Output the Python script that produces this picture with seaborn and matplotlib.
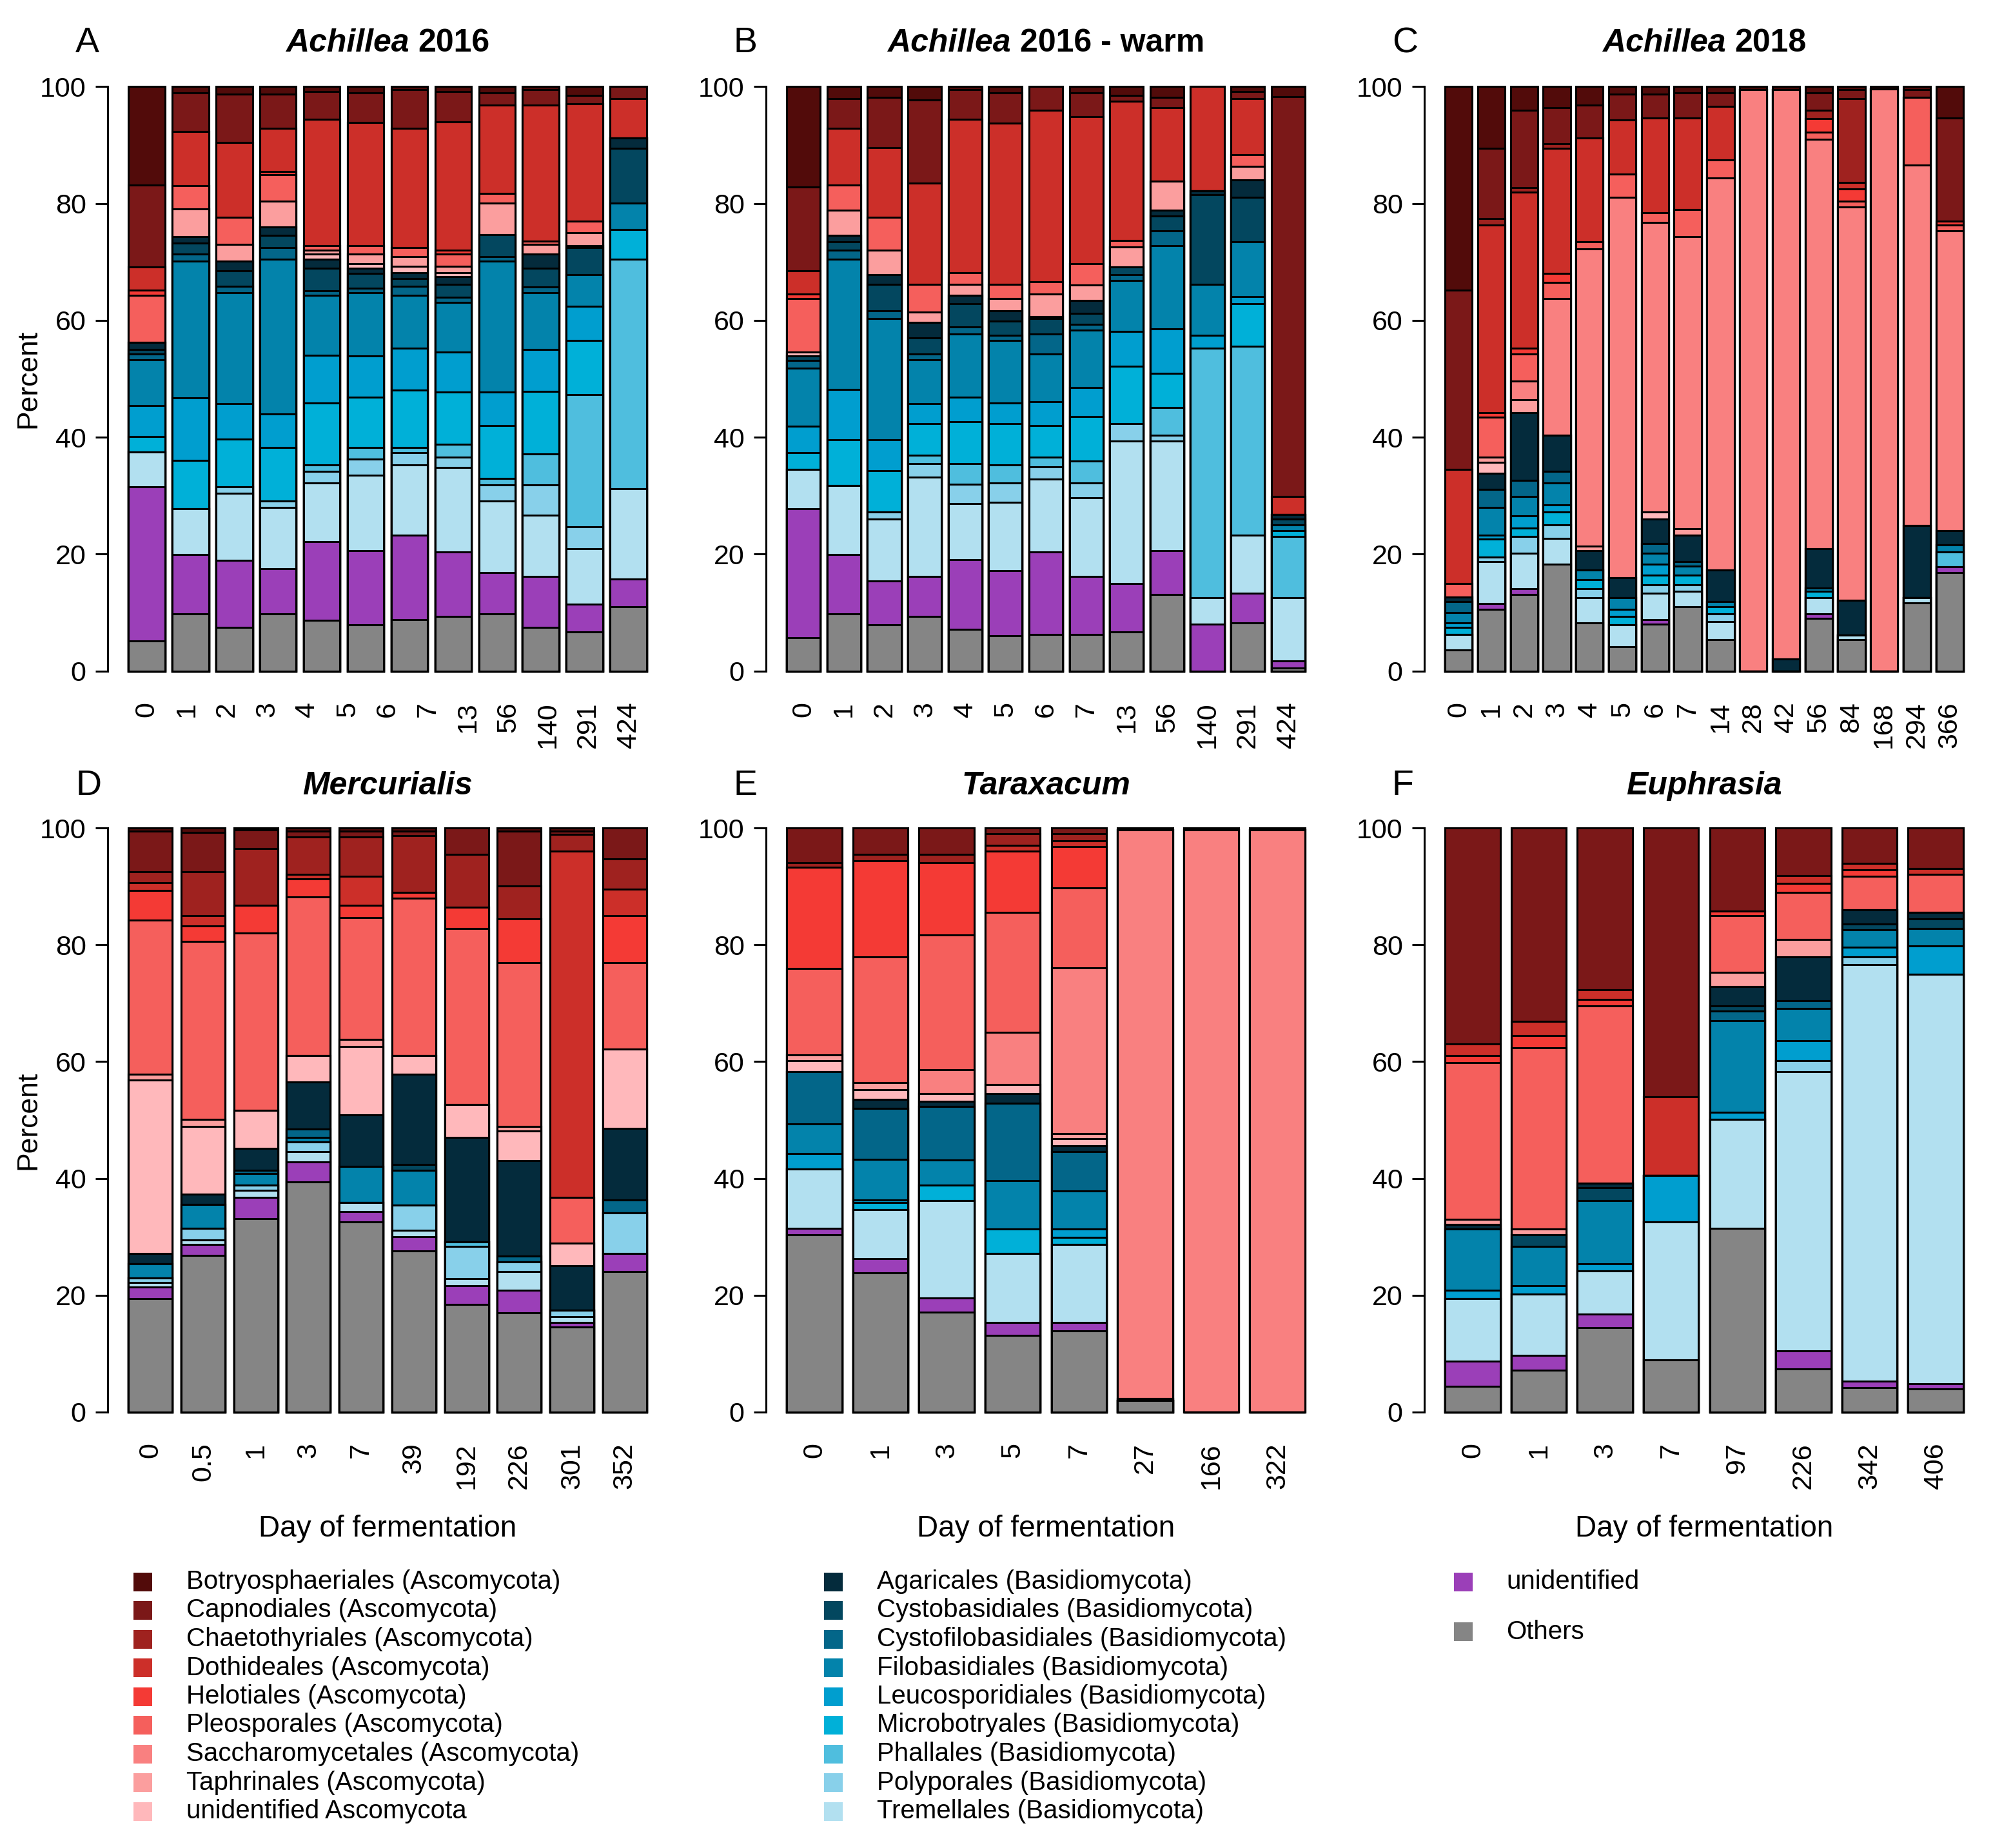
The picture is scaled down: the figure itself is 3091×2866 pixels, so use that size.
import numpy as np
import matplotlib
matplotlib.use("Agg")
import matplotlib.pyplot as plt
from matplotlib.patches import Rectangle
import seaborn as sns

sns.set_style("ticks")
plt.rcParams['font.family'] = ['Liberation Sans', 'DejaVu Sans']
for key in ["text.color", "axes.labelcolor", "xtick.color", "ytick.color", "axes.edgecolor"]:
    plt.rcParams[key] = "black"

# fungal orders, in stacking order (bottom -> top)
orders = ["Others", "unidentified",
          "Tremellales (Basidiomycota)", "Polyporales (Basidiomycota)",
          "Phallales (Basidiomycota)", "Microbotryales (Basidiomycota)",
          "Leucosporidiales (Basidiomycota)", "Filobasidiales (Basidiomycota)",
          "Cystofilobasidiales (Basidiomycota)", "Cystobasidiales (Basidiomycota)",
          "Agaricales (Basidiomycota)",
          "unidentified Ascomycota", "Taphrinales (Ascomycota)",
          "Saccharomycetales (Ascomycota)", "Pleosporales (Ascomycota)",
          "Helotiales (Ascomycota)", "Dothideales (Ascomycota)",
          "Chaetothyriales (Ascomycota)", "Capnodiales (Ascomycota)",
          "Botryosphaeriales (Ascomycota)"]
colors = ["#858585", "#9B3FB8",
          "#B2E0F0", "#88D0EA", "#4FBEDE", "#00B0D8", "#009ECF",
          "#0383AB", "#036689", "#03475F", "#042B3C",
          "#FFB8BB", "#FB9E9E", "#F98080", "#F55F5C", "#F43A35",
          "#CC2F29", "#9F221F", "#7B1818", "#520B0A"]

# percent per order, columns follow `orders`
#   O     U    Tre   Pol   Pha   Mic   Leu   Fil   Cfi   Cba   Aga   uA    Tap   Sac   Ple   Hel   Dot   Cha   Cap   Bot
achillea16 = [
    [5.2, 26.3, 6.0, 0, 0, 2.6, 5.3, 7.9, 0.9, 0.8, 1.2, 0, 0, 0, 8.1, 0.9, 3.9, 0, 14.1, 16.8],
    [9.8, 10.1, 7.9, 0, 0, 8.3, 10.6, 23.4, 1.2, 1.9, 1.1, 0, 4.8, 0, 3.9, 0, 9.3, 0, 6.6, 1.1],
    [7.5, 11.4, 11.5, 1.1, 0, 8.2, 6.0, 19.0, 1.1, 2.7, 1.6, 0, 2.9, 0, 4.6, 0, 12.8, 0, 8.3, 1.3],
    [9.8, 7.7, 10.5, 1.1, 0, 9.1, 5.8, 26.5, 1.9, 2.1, 1.5, 0, 4.4, 0, 4.5, 0.6, 7.4, 0, 5.8, 1.3],
    [8.7, 13.5, 10.0, 2.0, 1.1, 10.6, 8.1, 10.3, 0.8, 3.8, 1.6, 0.8, 0.7, 0, 0.8, 0, 21.6, 0, 4.8, 0.8],
    [7.9, 12.7, 12.9, 2.8, 1.9, 8.7, 7.0, 10.8, 0.8, 2.5, 0.9, 0.8, 1.6, 0, 1.5, 0, 21.0, 0, 5.1, 1.1],
    [8.8, 14.4, 12.1, 2.1, 0.8, 9.9, 7.1, 9.1, 1.5, 1.4, 1.0, 1.1, 1.6, 0, 1.5, 0, 20.5, 0, 6.6, 0.5],
    [9.4, 11.0, 14.4, 1.8, 2.2, 8.9, 6.9, 8.5, 0.8, 2.3, 1.3, 0.7, 1.1, 0, 2.0, 0.7, 22.0, 0, 5.2, 0.8],
    [9.8, 7.0, 12.3, 2.7, 1.2, 9.0, 5.7, 22.4, 0.8, 3.8, 0, 0, 5.4, 0, 1.6, 0, 15.1, 0, 2.1, 1.1],
    [7.5, 8.7, 10.5, 5.1, 5.4, 10.7, 7.1, 9.7, 1.0, 3.2, 2.5, 0, 1.6, 0, 0.6, 0, 23.2, 0, 2.7, 0.5],
    [6.7, 4.7, 9.5, 3.8, 22.6, 9.3, 5.8, 5.4, 0, 4.6, 0.4, 0, 2.2, 0, 2.0, 0, 20.1, 0, 1.4, 1.5],
    [11.0, 4.8, 15.4, 0, 39.3, 5.0, 0, 4.6, 0, 9.3, 1.8, 0, 0, 0, 0, 0, 6.7, 0, 2.1, 0],
]
achillea16_warm = [
    [5.7, 22.1, 6.7, 0, 0, 2.9, 4.5, 9.9, 1.3, 0.8, 0, 0.7, 0, 0, 9.1, 0.8, 4.0, 0, 14.3, 17.2],
    [9.8, 10.1, 11.8, 0, 0, 7.9, 8.6, 22.3, 1.5, 1.4, 1.1, 0, 4.3, 0, 4.4, 0, 9.7, 0, 5.0, 2.1],
    [7.9, 7.5, 10.6, 1.2, 0, 7.1, 5.3, 20.7, 1.3, 4.6, 1.6, 0, 4.2, 0, 5.6, 0, 12.0, 0, 8.5, 1.9],
    [9.4, 6.8, 17.0, 2.3, 1.4, 5.4, 3.4, 7.6, 1.0, 2.7, 2.7, 0, 1.7, 0, 4.8, 0, 17.3, 0, 14.2, 2.3],
    [7.1, 12.0, 9.5, 3.4, 3.5, 7.2, 4.2, 10.8, 1.2, 3.9, 1.5, 0, 1.9, 0, 2.0, 0, 26.2, 0, 5.1, 0.5],
    [6.0, 11.2, 11.7, 3.3, 3.1, 7.0, 3.6, 10.7, 0.9, 2.4, 1.7, 0, 2.1, 0, 2.5, 0, 27.5, 0, 5.2, 1.1],
    [6.3, 14.1, 12.4, 2.1, 1.7, 5.4, 4.1, 8.2, 3.4, 2.6, 0.3, 0, 3.9, 0, 2.1, 0, 29.4, 0, 4.0, 0],
    [6.3, 9.9, 13.5, 2.5, 3.7, 7.7, 4.9, 9.8, 1.0, 1.9, 2.2, 0, 2.7, 0, 3.6, 0, 25.1, 0, 4.1, 1.1],
    [6.7, 8.3, 24.4, 2.9, 0, 9.8, 6.0, 8.7, 1.0, 1.3, 0, 0, 3.5, 0, 1.1, 0, 23.8, 0, 1.0, 1.5],
    [13.1, 7.5, 18.8, 0.9, 4.8, 5.8, 7.6, 14.3, 2.5, 2.5, 1.0, 0, 5.0, 0, 0, 0, 12.6, 0, 1.7, 1.9],
    [0, 8.0, 4.5, 0, 42.7, 0, 2.3, 8.7, 0, 15.3, 0.7, 0, 0, 0, 0, 0, 17.8, 0, 0, 0],
    [8.3, 5.0, 10.0, 0, 32.3, 7.2, 1.3, 9.3, 0, 7.7, 2.9, 0, 2.3, 0, 2.0, 0, 9.6, 0, 1.2, 0.9],
    [0.5, 1.2, 10.8, 0, 10.5, 1.0, 0, 1.0, 0, 1.0, 0.8, 0, 0, 0, 0, 0, 3.1, 0, 68.4, 1.7],
]
achillea18 = [
    [3.6, 0, 2.7, 0, 0, 1.2, 0.8, 1.7, 1.9, 0, 0.8, 0, 0, 0, 2.3, 0, 19.5, 0, 30.7, 34.8],
    [10.6, 1.0, 7.1, 0.8, 0, 3.1, 0.7, 4.7, 3.1, 0, 2.7, 1.9, 0.9, 0, 6.8, 0.8, 32.1, 1.1, 12.0, 10.6],
    [13.1, 1.0, 6.1, 2.8, 0, 1.5, 2.1, 3.3, 2.7, 0, 11.6, 0, 2.2, 3.2, 4.7, 0.9, 26.7, 0.8, 13.3, 4.0],
    [18.3, 0, 4.4, 2.3, 0, 2.2, 1.2, 3.8, 2.0, 0, 6.1, 0, 0, 23.4, 2.8, 1.5, 21.4, 0.8, 6.2, 3.6],
    [8.3, 0, 4.2, 1.6, 0, 1.5, 0, 1.7, 0, 0, 3.3, 0, 0.8, 50.8, 1.2, 0, 17.8, 0, 5.6, 3.2],
    [4.2, 0, 3.7, 0, 0, 1.4, 1.3, 1.9, 0, 0, 3.5, 0, 0, 65.1, 3.9, 0, 9.3, 0, 4.4, 1.3],
    [8.0, 0.8, 4.5, 1.5, 0, 1.6, 1.9, 1.9, 1.6, 0, 4.2, 1.2, 0, 49.6, 1.6, 0, 16.2, 0, 4.1, 1.3],
    [11.0, 0, 2.7, 1.1, 0, 1.6, 0, 1.5, 0.8, 0, 4.6, 0, 1.0, 50.0, 4.7, 0, 15.6, 0, 4.3, 1.1],
    [5.4, 0, 3.1, 1.3, 0, 1.2, 0, 0.9, 0, 0, 5.4, 0, 0, 67.1, 3.1, 0, 9.1, 0, 2.3, 1.1],
    [0, 0, 0, 0, 0, 0, 0, 0, 0, 0, 0, 0, 0, 99.5, 0, 0, 0, 0, 0, 0.5],
    [0, 0, 0, 0, 0, 0, 0, 0, 0, 0, 2.1, 0, 0, 97.4, 0, 0, 0, 0, 0, 0.5],
    [9.0, 0.8, 2.7, 0, 0, 1.2, 0, 0.5, 0, 0, 6.7, 0, 0, 70.1, 1.2, 2.3, 0, 1.5, 2.9, 1.1],
    [5.4, 0, 0.8, 0, 0, 0, 0, 0, 0, 0, 5.9, 0, 0, 67.3, 1.0, 2.1, 1.1, 14.3, 1.6, 0.5],
    [0, 0, 0, 0, 0, 0, 0, 0, 0, 0, 0, 0, 0, 99.6, 0, 0, 0, 0, 0, 0.4],
    [11.7, 0, 0.8, 0, 0, 0, 0, 0, 0, 0, 12.4, 0, 0, 61.7, 11.5, 0, 0, 0, 1.4, 0.5],
    [16.8, 1.0, 0, 0, 2.6, 0, 0, 1.2, 0, 0, 2.4, 0, 0, 51.3, 1.0, 0.7, 0, 0, 17.6, 5.4],
]
mercurialis = [
    [19.4, 2.0, 0.8, 0.8, 0, 0, 0, 2.4, 0, 0, 1.7, 29.8, 0.9, 0, 26.4, 5.1, 1.3, 1.9, 7.0, 0.5],
    [26.8, 1.9, 0.8, 2.0, 0, 0, 0, 4.0, 0, 0, 1.8, 11.6, 1.2, 0, 30.5, 2.6, 1.8, 7.5, 6.7, 0.8],
    [33.1, 3.7, 1.2, 0.8, 0, 0, 0, 2.0, 0.6, 0, 3.7, 6.6, 0, 0, 30.3, 4.8, 0, 9.7, 3.2, 0.3],
    [39.4, 3.4, 1.8, 1.6, 0, 0, 0, 0.8, 1.5, 0, 8.0, 4.5, 0, 0, 27.2, 3.1, 0.8, 6.4, 1.0, 0.5],
    [32.5, 1.8, 1.6, 0, 0, 0, 0, 6.1, 0, 0, 8.9, 11.7, 1.2, 0, 20.9, 2.1, 4.9, 6.8, 1.0, 0.5],
    [27.6, 2.4, 1.1, 4.3, 0, 0, 0, 6.0, 0, 1.0, 15.4, 3.2, 0, 0, 27.0, 1.0, 0, 9.7, 0.8, 0.5],
    [18.4, 3.2, 1.2, 5.6, 0.7, 0, 0, 0, 0, 0, 17.9, 5.7, 0, 0, 30.1, 3.6, 0, 9.1, 4.5, 0],
    [17.0, 3.8, 3.3, 1.6, 0, 0, 0, 0, 1.0, 0, 16.3, 5.1, 0.8, 0, 28.0, 7.5, 0, 5.7, 9.4, 0.5],
    [14.5, 0.8, 1.0, 1.1, 0, 0, 0, 0, 0, 0, 7.6, 3.9, 0, 0, 7.9, 0, 59.3, 2.8, 0.6, 0.5],
    [24.1, 3.0, 0, 7.0, 0, 0, 0, 0, 2.2, 0, 12.3, 13.6, 0, 0, 14.7, 8.1, 4.5, 5.2, 5.3, 0],
]
taraxacum = [
    [30.3, 1.2, 10.1, 0, 0, 0, 2.7, 5.0, 9.0, 0, 0, 1.9, 1.0, 0, 14.7, 17.4, 0, 0.8, 5.9, 0],
    [23.8, 2.5, 8.4, 0, 0, 1.2, 0.4, 7.0, 8.7, 0, 1.5, 1.7, 1.2, 0, 21.5, 16.5, 0, 1.1, 4.5, 0],
    [17.1, 2.4, 16.7, 0, 0, 2.6, 0, 4.4, 9.1, 0, 0.9, 1.3, 0, 4.1, 23.1, 12.4, 0, 1.4, 4.5, 0],
    [13.1, 2.2, 11.8, 0, 0, 4.2, 0, 8.3, 13.3, 0, 1.6, 1.6, 0, 8.9, 20.6, 10.4, 1.0, 2.0, 1.0, 0],
    [13.9, 1.4, 13.4, 0, 0, 1.2, 1.4, 6.5, 6.8, 0, 1.0, 1.2, 0.9, 28.4, 13.7, 7.0, 1.0, 1.2, 1.0, 0],
    [2.0, 0, 0, 0, 0, 0, 0, 0, 0, 0, 0.3, 0, 0, 97.4, 0, 0, 0, 0, 0, 0.3],
    [0, 0, 0, 0, 0, 0, 0, 0, 0, 0, 0, 0, 0, 99.7, 0, 0, 0, 0, 0, 0.3],
    [0, 0, 0, 0, 0, 0, 0, 0, 0, 0, 0, 0, 0, 99.7, 0, 0, 0, 0, 0, 0.3],
]
euphrasia = [
    [4.4, 4.3, 10.7, 0, 0, 0, 1.4, 10.5, 0, 0, 0.8, 0, 0.9, 0, 26.8, 1.2, 2.0, 0, 37.0, 0],
    [7.1, 2.6, 10.5, 0, 0, 0, 1.4, 6.8, 0, 1.9, 0, 0, 1.0, 0, 31.1, 2.1, 2.4, 0, 33.1, 0],
    [14.4, 2.4, 7.4, 0, 0, 0, 1.2, 10.8, 0, 2.2, 0.8, 0, 0, 0, 30.3, 1.2, 1.6, 0, 27.7, 0],
    [8.9, 0, 23.6, 0, 0, 0, 8.0, 0, 0, 0, 0, 0, 0, 0, 0, 0, 13.5, 0, 46.0, 0],
    [31.5, 0, 18.6, 0, 0, 0, 1.2, 15.7, 1.7, 0.9, 3.3, 0, 2.4, 0, 9.7, 0.8, 0, 0, 14.2, 0],
    [7.4, 3.1, 47.8, 1.9, 0, 0, 3.4, 5.5, 1.3, 0, 7.5, 0, 3.0, 0, 8.1, 1.5, 1.4, 0, 8.1, 0],
    [4.2, 1.1, 71.3, 1.3, 0, 0, 1.7, 3.0, 0, 1.0, 2.4, 0, 0, 0, 5.7, 1.2, 1.0, 0, 6.1, 0],
    [4.0, 0.8, 70.2, 0, 0, 0, 4.8, 3.0, 0, 1.6, 1.2, 0, 0, 0, 6.5, 0, 1.0, 0, 6.9, 0],
]

days_achillea16 = ["0", "1", "2", "3", "4", "5", "6", "7", "13", "56", "140", "291", "424"]
days_achillea16_warm = ["0", "1", "2", "3", "4", "5", "6", "7", "13", "56", "140", "291", "424"]
days_achillea18 = ["0", "1", "2", "3", "4", "5", "6", "7", "14", "28", "42", "56", "84", "168", "294", "366"]
days_mercurialis = ["0", "0.5", "1", "3", "7", "39", "192", "226", "301", "352"]
days_taraxacum = ["0", "1", "3", "5", "7", "27", "166", "322"]
days_euphrasia = ["0", "1", "3", "7", "97", "226", "342", "406"]

W, H = 3091, 2866
fig = plt.figure(figsize=(W / 200, H / 200), dpi=200)

BW = 0.833


def stacked(ax, rows, labels):
    vals = np.array(rows, dtype=float)
    tops = vals.cumsum(axis=1)
    n = len(vals)
    xpos = np.arange(n)
    # draw cumulative totals from the top category down
    for k in range(len(orders) - 1, -1, -1):
        sns.barplot(x=xpos, y=tops[:, k], color=colors[k], saturation=1,
                    width=BW, edgecolor="black", linewidth=1.1,
                    errorbar=None, native_scale=True, orient="x", ax=ax)
    span = n - 1 + BW
    ax.set_xlim(-BW / 2 - 0.04 * span, n - 1 + BW / 2 + 0.04 * span)
    ax.set_ylim(-4, 104)
    for s in ["top", "right", "bottom"]:
        ax.spines[s].set_visible(False)
    ax.spines["left"].set_bounds(0, 100)
    ax.spines["left"].set_linewidth(1.1)
    ax.set_yticks(range(0, 101, 20))
    ax.set_xticks(np.linspace(0, n - 1, len(labels)))
    ax.set_xticklabels(labels, rotation=90)
    ax.tick_params(axis="x", length=0, pad=4, labelsize=15.5)
    ax.tick_params(axis="y", length=7, width=1.1, pad=5, labelsize=15.5)
    ax.set_xlabel("")
    ax.set_ylabel("")


lefts = [167 / W, 1188 / W, 2209 / W]
aw = 868 / W
top_row = (1 - 1077 / H, (1077 - 98) / H)
bot_row = (1 - 2226 / H, (2226 - 1248) / H)

panels = [
    (lefts[0], top_row, achillea16, days_achillea16, "A", [("Achillea ", "italic"), ("2016", "normal")]),
    (lefts[1], top_row, achillea16_warm, days_achillea16_warm, "B", [("Achillea ", "italic"), ("2016 - warm", "normal")]),
    (lefts[2], top_row, achillea18, days_achillea18, "C", [("Achillea ", "italic"), ("2018", "normal")]),
    (lefts[0], bot_row, mercurialis, days_mercurialis, "D", [("Mercurialis", "italic")]),
    (lefts[1], bot_row, taraxacum, days_taraxacum, "E", [("Taraxacum", "italic")]),
    (lefts[2], bot_row, euphrasia, days_euphrasia, "F", [("Euphrasia", "italic")]),
]

renderer = fig.canvas.get_renderer()
for i, (left, (bottom, height), rows, labels, letter, title) in enumerate(panels):
    ax = fig.add_axes([left, bottom, aw, height])
    stacked(ax, rows, labels)
    top_y = 0.9765 if i < 3 else 0.5745
    fig.text(left - 50 / W, top_y, letter, fontsize=20, ha="left", va="center")
    # title: italic genus + upright remainder, centred over the panel
    pieces = [fig.text(0, top_y, t, fontsize=18, fontweight="bold", fontstyle=st,
                       ha="left", va="center") for t, st in title]
    widths = [p.get_window_extent(renderer).width / fig.bbox.width for p in pieces]
    x0 = left + aw / 2 - sum(widths) / 2
    for p, w in zip(pieces, widths):
        p.set_x(x0)
        x0 += w
    if i in (0, 3):
        fig.text(44 / W, bottom + height / 2, "Percent", rotation=90,
                 fontsize=16, ha="center", va="center")
    if i >= 3:
        fig.text(left + aw / 2, 1 - 2371 / H, "Day of fermentation",
                 fontsize=16.5, ha="center", va="center")

# legend, three columns
sq_w, sq_h = 29 / W, 29 / H
row0 = 1 - 2453 / H
pitch = 44.5 / H
legend_cols = [
    (207 / W, 289 / W, list(range(19, 10, -1)), pitch),
    (1278 / W, 1360 / W, list(range(10, 1, -1)), pitch),
    (2255 / W, 2336 / W, [1, 0], 77.5 / H),
]
for sq_x, tx, idx, p in legend_cols:
    for r, k in enumerate(idx):
        yc = row0 - r * p
        fig.add_artist(Rectangle((sq_x, yc - sq_h / 2), sq_w, sq_h,
                                 transform=fig.transFigure, facecolor=colors[k],
                                 edgecolor="none"))
        fig.text(tx, yc, orders[k], fontsize=14.5, ha="left", va="center")

fig.savefig("out.png", dpi=200, facecolor="white")
